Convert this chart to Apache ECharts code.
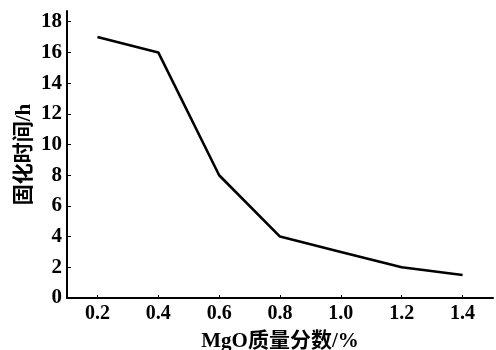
<!DOCTYPE html>
<html><head><meta charset="utf-8">
<script src="https://cdn.jsdelivr.net/npm/echarts@6/dist/echarts.min.js"></script>
<style>html,body{margin:0;padding:0;background:#fff}#c{width:496px;height:350px}</style>
</head><body><div id="c"></div>
<script>
var xValues = [0.2, 0.4, 0.6, 0.8, 1.0, 1.2, 1.4];
var yValues = [17, 16, 8, 4, 3, 2, 1.5];
var xTicks = [0.2, 0.4, 0.6, 0.8, 1.0, 1.2, 1.4];
var yTicks = [0, 2, 4, 6, 8, 10, 12, 14, 16, 18];
var xName = 'MgO质量分数/%';
var yName = '固化时间/h';

var font = '"Liberation Serif", "Noto Sans CJK SC", serif';
var chart = echarts.init(document.getElementById('c'));
chart.setOption({
  animation: false,
  backgroundColor: '#fff',
  grid: {left: 67, right: 3, top: 11, bottom: 52, containLabel: false, outerBoundsMode: 'none'},
  xAxis: {
    type: 'value', min: 0.1, max: 1.5,
    name: xName, nameLocation: 'middle', nameGap: 33, nameMoveOverlap: false,
    nameTextStyle: {fontFamily: font, fontWeight: 'bold', fontSize: 21, color: '#000', verticalAlign: 'top'},
    axisLine: {lineStyle: {color: '#000', width: 2}},
    axisTick: {inside: true, length: 3, lineStyle: {color: '#000'}, customValues: xTicks},
    axisLabel: {customValues: xTicks, fontFamily: font, fontWeight: 'bold', fontSize: 20, color: '#000', margin: 6,
      formatter: function(v){ return v.toFixed(1); }},
    splitLine: {show: false}
  },
  yAxis: {
    type: 'value', min: 0, max: 18.7,
    name: yName, nameLocation: 'middle', nameGap: 32, nameRotate: 90, nameMoveOverlap: false,
    nameTextStyle: {fontFamily: font, fontWeight: 'bold', fontSize: 21, color: '#000'},
    axisLine: {show: true, lineStyle: {color: '#000', width: 2}},
    axisTick: {show: true, inside: true, length: 4, lineStyle: {color: '#000'}, customValues: yTicks},
    axisLabel: {customValues: yTicks, fontFamily: font, fontWeight: 'bold', fontSize: 21, color: '#000', margin: 5},
    splitLine: {show: false}
  },
  series: [{
    type: 'line',
    data: xValues.map(function(x, i){ return [x, yValues[i]]; }),
    showSymbol: false,
    lineStyle: {color: '#000', width: 2.6}
  }]
});
</script></body></html>
